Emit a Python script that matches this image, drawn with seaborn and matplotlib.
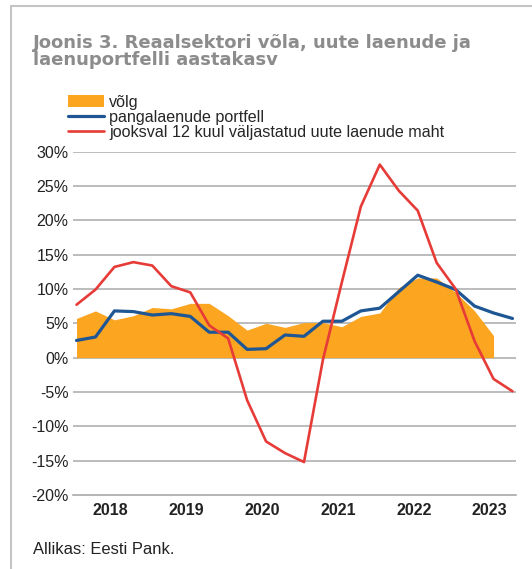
import numpy as np
import pandas as pd
import matplotlib.pyplot as plt
import seaborn as sns
from matplotlib.patches import Patch
from matplotlib.lines import Line2D

# Quarterly values (2018 Q1 ... 2023 Q4)
years = ['2018', '2019', '2020', '2021', '2022', '2023']
volg = [5.7, 6.8, 5.5, 6.1, 7.3, 7.1, 7.9, 7.9, 6.1, 4.0, 5.0, 4.4,
        5.1, 5.1, 4.5, 6.0, 6.5, 10.2, 11.6, 11.6, 9.5, 6.8, 3.2]
portfell = [2.5, 3.0, 6.8, 6.7, 6.2, 6.4, 6.0, 3.7, 3.7, 1.2, 1.3, 3.3,
            3.1, 5.3, 5.3, 6.8, 7.2, 9.6, 12.0, 11.0, 9.9, 7.5, 6.5, 5.7]
uued = [7.7, 9.9, 13.2, 13.9, 13.4, 10.4, 9.5, 4.7, 2.8, -6.2, -12.2, -13.9,
        -15.2, -0.3, 11.0, 22.0, 28.1, 24.3, 21.4, 13.8, 10.0, 2.4, -3.1, -4.9]
yticks = [-20, -15, -10, -5, 0, 5, 10, 15, 20, 25, 30]

labels = ['võlg', 'pangalaenude portfell',
          'jooksval 12 kuul väljastatud uute laenude maht']
c_orange, c_blue, c_red = '#FBA521', '#1F5694', '#E63B37'

df = pd.DataFrame({'q': np.arange(len(portfell)), 'portfell': portfell, 'uued': uued})

sns.set_style('white')
plt.rcParams['font.family'] = ['Liberation Sans', 'DejaVu Sans']

fig = plt.figure(figsize=(5.32, 5.69), dpi=100)
ax = fig.add_axes([0.1367, 0.130, 0.8327, 0.6037])

ax.fill_between(np.arange(len(volg)), volg, 0, color=c_orange, lw=0, zorder=2)
sns.lineplot(data=df, x='q', y='portfell', color=c_blue, lw=2.3, ax=ax, zorder=3)
sns.lineplot(data=df, x='q', y='uued', color=c_red, lw=1.9, ax=ax, zorder=4)

ax.set_xlim(-0.2, 23.17)
ax.set_ylim(-20, 30)
ax.set_yticks(yticks)
ax.set_yticklabels([f'{v}%' for v in yticks], fontsize=11.5, color='#222222')
for v in yticks[1:]:
    ax.axhline(v, color='#a9a9a9', lw=1.1, zorder=1)

bounds = [-0.2 + 4 * i for i in range(6)]
ax.set_xticks(bounds)
ax.set_xticklabels([])
ax.set_xticks([b + 2 for b in bounds], minor=True)
ax.set_xticklabels(years, minor=True, fontsize=11.5, fontweight='bold', color='#222222')
ax.tick_params(axis='x', which='major', direction='in', length=6, width=1.1, color='#a0a0a0')
ax.tick_params(axis='x', which='minor', length=0, pad=6)
ax.tick_params(axis='y', length=0, pad=3)
ax.set_xlabel('')
ax.set_ylabel('')
for s in ['top', 'right', 'left']:
    ax.spines[s].set_visible(False)
ax.spines['bottom'].set_color('#a0a0a0')
ax.spines['bottom'].set_linewidth(1.1)

handles = [Patch(color=c_orange, lw=0), Line2D([], [], color=c_blue, lw=2.3),
           Line2D([], [], color=c_red, lw=1.9)]
fig.legend(handles, labels, loc='upper left', bbox_to_anchor=(0.128, 1 - 95 / 569),
           frameon=False, fontsize=11.6, handlelength=2.2, handleheight=0.75,
           handletextpad=0.35, labelspacing=0.0, borderaxespad=0, borderpad=0)

fig.text(33 / 532, 1 - 33.5 / 569, 'Joonis 3. Reaalsektori võla, uute laenude ja\nlaenuportfelli aastakasv',
         fontsize=13, fontweight='bold', color='#8c8c8c', va='top', ha='left', linespacing=0.93,
         family='DejaVu Sans')
fig.text(33 / 532, 1 - 550 / 569, 'Allikas: Eesti Pank.', fontsize=11.9, color='#222222',
         va='center', ha='left')

# frame around the chart
fig.add_artist(Line2D([10.5 / 532, 10.5 / 532], [0, 1 - 6 / 569], color='#c4c4c4', lw=1.5))
fig.add_artist(Line2D([10.5 / 532, 1], [1 - 6 / 569, 1 - 6 / 569], color='#c4c4c4', lw=1.5))

fig.savefig('out.png', dpi=100)
